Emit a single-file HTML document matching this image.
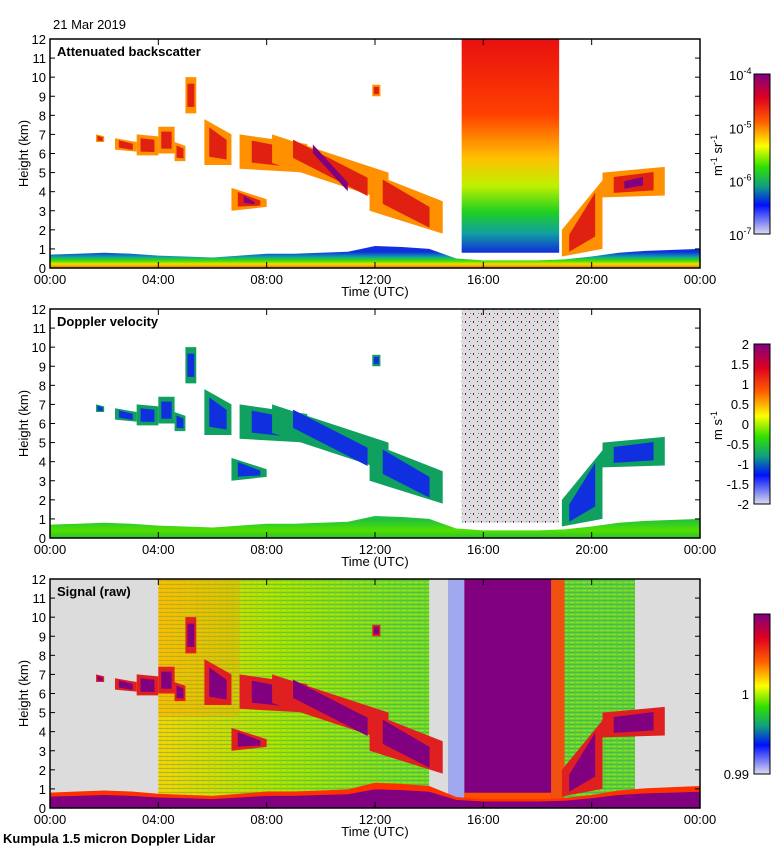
<!DOCTYPE html>
<html><head><meta charset="utf-8"><style>
html,body{margin:0;padding:0;background:#fff;}
svg{display:block;font-family:"Liberation Sans",sans-serif;}
</style></head><body>
<svg id="fig" width="780" height="850" viewBox="0 0 780 850">
<defs>
  <linearGradient id="cb" x1="0" y1="0" x2="0" y2="1">
    <stop offset="0" stop-color="#800080"/><stop offset="0.15" stop-color="#e00020"/>
    <stop offset="0.3" stop-color="#ff6000"/><stop offset="0.45" stop-color="#ffff00"/>
    <stop offset="0.58" stop-color="#30e000"/><stop offset="0.7" stop-color="#10a080"/>
    <stop offset="0.82" stop-color="#0010ff"/><stop offset="1" stop-color="#dcdcec"/>
  </linearGradient>
  <linearGradient id="blk1" gradientUnits="userSpaceOnUse" x1="0" y1="39" x2="0" y2="255">
    <stop offset="0" stop-color="#e81010"/><stop offset="0.35" stop-color="#ff4000"/>
    <stop offset="0.55" stop-color="#ffc000"/><stop offset="0.68" stop-color="#c0f000"/>
    <stop offset="0.8" stop-color="#20d020"/><stop offset="0.9" stop-color="#10a0a0"/>
    <stop offset="1" stop-color="#1020e0"/>
  </linearGradient>
  <linearGradient id="bl1" gradientUnits="userSpaceOnUse" x1="0" y1="252" x2="0" y2="268">
    <stop offset="0" stop-color="#1030e0"/><stop offset="0.3" stop-color="#10a0a0"/>
    <stop offset="0.55" stop-color="#40e000"/><stop offset="0.75" stop-color="#f0e000"/>
    <stop offset="1" stop-color="#f07000"/>
  </linearGradient>
  <linearGradient id="bl2" gradientUnits="userSpaceOnUse" x1="0" y1="519" x2="0" y2="538">
    <stop offset="0" stop-color="#20c040"/><stop offset="0.6" stop-color="#50e000"/><stop offset="1" stop-color="#30c030"/>
  </linearGradient>
  <linearGradient id="sig" gradientUnits="userSpaceOnUse" x1="158" y1="0" x2="640" y2="0">
    <stop offset="0" stop-color="#f0d000"/><stop offset="0.25" stop-color="#a0e000"/>
    <stop offset="0.5" stop-color="#70d820"/><stop offset="1" stop-color="#60d030"/>
  </linearGradient>
  <pattern id="stripes" width="6" height="4" patternUnits="userSpaceOnUse">
    <rect width="6" height="1" fill="#1080c0" opacity="0.3"/>
    <rect y="2" width="4" height="1" fill="#ffff00" opacity="0.3"/>
  </pattern>
  <pattern id="speck" width="8" height="8" patternUnits="userSpaceOnUse">
    <rect width="8" height="8" fill="#dcdcdc"/>
    <rect x="1" y="1" width="1" height="2" fill="#800080"/>
    <rect x="5" y="5" width="1" height="1" fill="#800080"/>
    <rect x="6" y="1" width="1" height="1" fill="#20c040"/>
  </pattern>
</defs>
<g id="layers"></g>
</svg>
<script>
// ---- data (hours UTC, km) ----
const xTicks = ["00:00","04:00","08:00","12:00","16:00","20:00","00:00"];
const tickHours = [0,4,8,12,16,20,24];
const yTicks = [0,1,2,3,4,5,6,7,8,9,10,11,12];
const blTimes = [0,1,2,3,4,5,6,7,8,9,10,11,12,13,14,15,16,17,18,19,20,21,22,23,24];
const blTop   = [0.7,0.75,0.8,0.75,0.65,0.6,0.55,0.65,0.75,0.75,0.8,0.85,1.15,1.1,1.0,0.5,0.4,0.4,0.4,0.45,0.6,0.8,0.9,0.95,1.0];
const cloudT0 = [1.7,2.4,3.2,4.0,4.6,5.0,5.7,6.7,7.0,8.2,11.8,11.9,18.9,20.4];
const cloudT1 = [2.0,3.2,4.0,4.6,5.0,5.4,6.7,8.0,9.5,12.5,14.5,12.2,20.4,22.7];
const cloudB0 = [6.6,6.2,5.9,6.0,5.6,8.1,5.4,3.0,5.2,5.5,3.0,9.0,0.6,3.7];
const cloudB1 = [6.6,6.1,5.9,6.0,5.6,8.1,5.4,3.2,5.0,3.5,1.8,9.0,1.0,3.8];
const cloudH0 = [7.0,6.8,7.0,7.4,6.6,10.0,7.8,4.2,7.0,7.0,5.0,9.6,2.0,5.0];
const cloudH1 = [6.9,6.6,6.9,7.4,6.4,10.0,7.0,3.6,6.5,5.0,3.5,9.6,4.6,5.3];
const blockStart = 15.2, blockEnd = 18.8, blockBase = 0.8;

const panelTops = [39,309,579];
const X0 = 50, X1 = 700, PH = 229;
const xs = t => X0 + t/24*(X1-X0);
const ys = (p,h) => panelTops[p] + (12-h)/12*PH;
const NS = "http://www.w3.org/2000/svg";
const root = document.getElementById("layers");
function mk(tag, attrs, parent){
  const e = document.createElementNS(NS, tag);
  for (const k in attrs) e.setAttribute(k, attrs[k]);
  (parent||root).appendChild(e); return e;
}
function txt(s, x, y, attrs){ const e = mk("text", Object.assign({x:x,y:y,"font-size":13}, attrs||{})); e.textContent = s; return e; }
function trap(p,i,shrink){
  const s = shrink||0;
  const t0 = cloudT0[i]+s*(cloudT1[i]-cloudT0[i]), t1 = cloudT1[i]-s*(cloudT1[i]-cloudT0[i]);
  const dh0 = (cloudH0[i]-cloudB0[i])*s, dh1 = (cloudH1[i]-cloudB1[i])*s;
  return [xs(t0)+","+ys(p,cloudB0[i]+dh0), xs(t1)+","+ys(p,cloudB1[i]+dh1),
          xs(t1)+","+ys(p,cloudH1[i]-dh1), xs(t0)+","+ys(p,cloudH0[i]-dh0)].join(" ");
}
function blPoly(p, scale){
  let pts = [xs(0)+","+ys(p,0)];
  blTimes.forEach((t,i)=>pts.push(xs(t)+","+ys(p,blTop[i]*scale)));
  pts.push(xs(24)+","+ys(p,0));
  return pts.join(" ");
}

const names = ["attenuated-backscatter","doppler-velocity","signal-raw"];
for (let p=0;p<3;p++){
  const top = panelTops[p], bot = top+PH;
  const g = mk("g",{});
  
  
  const plot = mk("g",{},g);
  
  
  if (p===2){
    mk("rect",{x:X0,y:top,width:X1-X0,height:PH,fill:"#dcdcdc"},plot);
    mk("rect",{x:xs(4),y:top,width:xs(21.6)-xs(4),height:PH,fill:"url(#sig)"},plot);
    mk("rect",{x:xs(4),y:top,width:xs(21.6)-xs(4),height:PH,fill:"url(#stripes)"},plot);
    mk("rect",{x:xs(4),y:top,width:xs(7)-xs(4),height:PH*0.6,fill:"#ff9000",opacity:0.3},plot);
    mk("rect",{x:xs(14),y:top,width:xs(14.7)-xs(14),height:PH,fill:"#dcdcdc"},plot);
    mk("rect",{x:xs(14.7),y:top,width:xs(15.3)-xs(14.7),height:PH,fill:"#a0a8f0"},plot);
    mk("rect",{x:xs(18.4),y:top,width:xs(19.0)-xs(18.4),height:PH,fill:"#f05010"},plot);
    mk("rect",{x:xs(15.3),y:top,width:xs(18.5)-xs(15.3),height:PH,fill:"#800080"},plot);
    mk("rect",{x:xs(15.3),y:ys(p,0.8),width:xs(18.5)-xs(15.3),height:ys(p,0.3)-ys(p,0.8),fill:"#ff5000"},plot);
  }
  if (p===0){
    mk("rect",{x:xs(blockStart),y:top,width:xs(blockEnd)-xs(blockStart),height:ys(p,blockBase)-top,fill:"url(#blk1)"},plot);
  }
  if (p===1){
    mk("rect",{x:xs(blockStart),y:top,width:xs(blockEnd)-xs(blockStart),height:ys(p,blockBase)-top,fill:"url(#speck)"},plot);
  }
  const bl = mk("polygon",{points:blPoly(p, p===2?1.15:1), fill: p===0?"url(#bl1)":p===1?"url(#bl2)":"#ff3000"},plot);
  
  
  if (p===2){ mk("polygon",{points:blPoly(p,0.85),fill:"#800080"},plot); }
  for (let i=0;i<cloudT0.length;i++){
    const outer = p===0?"#ff9000":p===1?"#10a060":"#e02020";
    const inner = p===0?"#e02010":p===1?"#1030e0":"#800080";
    const c = mk("polygon",{points:trap(p,i,0),fill:outer},plot);
    
    
    mk("polygon",{points:trap(p,i,0.18),fill:inner},plot);
    if (p===0 && (i===7||i===9||i===13)) mk("polygon",{points:trap(p,i,0.35),fill:"#800080"},plot);
  }
  const fr = mk("rect",{x:X0,y:top,width:X1-X0,height:PH,fill:"none",stroke:"#000","stroke-width":1.5},g);
  
  
  yTicks.forEach(h=>{
    const y = ys(p,h);
    mk("line",{x1:X0,x2:X0+5,y1:y,y2:y,stroke:"#000"},g);
    mk("line",{x1:X1-5,x2:X1,y1:y,y2:y,stroke:"#000"},g);
    const t = txt(String(h), X0-4, y+5, {"text-anchor":"end"}); g.appendChild(t);
    
    
  });
  tickHours.forEach((hh,i)=>{
    const x = xs(hh);
    mk("line",{x1:x,x2:x,y1:bot,y2:bot-6,stroke:"#000"},g);
    mk("line",{x1:x,x2:x,y1:top,y2:top+6,stroke:"#000"},g);
    const t = txt(xTicks[i], x, bot+16, {"text-anchor":"middle"}); g.appendChild(t);
    
    
  });
  const xt = txt("Time (UTC)", 375, bot+28, {"text-anchor":"middle"}); g.appendChild(xt);
  
  
  const yt = txt("Height (km)", 0, 0, {"text-anchor":"middle",transform:"translate(28,"+(top+PH/2)+") rotate(-90)"}); g.appendChild(yt);
  
  
  const pt = txt(["Attenuated backscatter","Doppler velocity","Signal (raw)"][p], 57, top+17, {"font-weight":"bold"}); g.appendChild(pt);
  
  
  const cbTop = top+35, cbH = 160;
  const cb = mk("rect",{x:754,y:cbTop,width:16,height:cbH,fill:"url(#cb)",stroke:"#000"},g);
  
  
}
const cb1Exp = ["-4","-5","-6","-7"];
cb1Exp.forEach((e,i)=>{
  const t = txt("10", 729, 74+i*53.3+6, {"text-anchor":"start"});
  const s = mk("tspan",{dy:-6,"font-size":9}, t); s.textContent = e;
  
  
});
const u1 = txt("m", 0,0,{transform:"translate(722,176) rotate(-90)"});
const u1a = mk("tspan",{dy:-5,"font-size":9},u1); u1a.textContent="-1";
const u1b = mk("tspan",{dy:5},u1); u1b.textContent=" sr";
const u1c = mk("tspan",{dy:-5,"font-size":9},u1); u1c.textContent="-1";


const cb2Labels = ["2","1.5","1","0.5","0","-0.5","-1","-1.5","-2"];
cb2Labels.forEach((l,i)=>{
  const t = txt(l, 749, 344+i*20+5, {"text-anchor":"end"});
  
  
});
const u2 = txt("m s", 0,0,{transform:"translate(722,440) rotate(-90)"});
const u2a = mk("tspan",{dy:-5,"font-size":9},u2); u2a.textContent="-1";


const cb3Labels = ["1","0.99"]; const cb3Y = [694,774];
cb3Labels.forEach((l,i)=>{
  const t = txt(l, 749, cb3Y[i]+5, {"text-anchor":"end"});
  
  
});
const dt = txt("21 Mar 2019", 53, 29, {"font-size":13});


const ft = txt("Kumpula 1.5 micron Doppler Lidar", 3, 843, {"font-weight":"bold","font-size":13});


</script>
</body></html>
